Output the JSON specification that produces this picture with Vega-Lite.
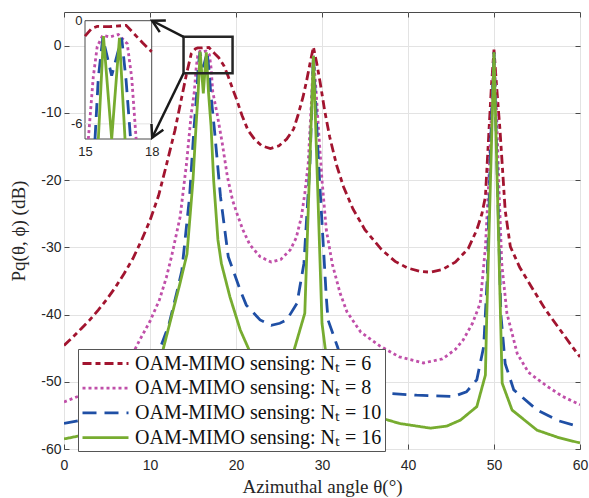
{
  "$schema": "https://vega.github.io/schema/vega-lite/v6.json",
  "width": 516,
  "height": 437,
  "autosize": {"type": "none"},
  "padding": {"left": 64, "top": 12, "right": 9, "bottom": 49},
  "background": "white",
  "config": {
    "view": {"stroke": "#4a4a4a", "strokeWidth": 1},
    "axis": {
      "labelFont": "Liberation Sans",
      "labelFontSize": 14,
      "labelColor": "#262626",
      "labelFlush": false,
      "labelExpr": "'' + datum.value",
      "gridColor": "#e3e3e3",
      "gridWidth": 1,
      "domain": false,
      "tickColor": "#4a4a4a",
      "tickSize": -5,
      "tickWidth": 1,
      "titleFont": "Liberation Serif",
      "titleFontWeight": "normal",
      "titleFontSize": 19,
      "titleColor": "#262626"
    }
  },
  "datasets": {
    "main": [
      {"s":"6","x":0,"y":-44.6},{"s":"6","x":1,"y":-43.4},{"s":"6","x":2,"y":-42.1},{"s":"6","x":3,"y":-40.8},{"s":"6","x":4,"y":-39.3},{"s":"6","x":5,"y":-37.7},{"s":"6","x":6,"y":-35.9},{"s":"6","x":7,"y":-33.9},{"s":"6","x":8,"y":-31.7},{"s":"6","x":9,"y":-29.0},{"s":"6","x":10,"y":-26.0},{"s":"6","x":11,"y":-22.3},{"s":"6","x":11.9,"y":-17.8},{"s":"6","x":12.9,"y":-12.6},{"s":"6","x":13.7,"y":-7.6},{"s":"6","x":14.25,"y":-4.2},{"s":"6","x":14.8,"y":-1.2},{"s":"6","x":15.0,"y":-0.9},{"s":"6","x":15.3,"y":-0.45},{"s":"6","x":15.55,"y":-0.33},{"s":"6","x":16.1,"y":-0.35},{"s":"6","x":16.85,"y":-0.27},{"s":"6","x":17.2,"y":-0.75},{"s":"6","x":17.6,"y":-1.3},{"s":"6","x":18.0,"y":-1.8},{"s":"6","x":18.6,"y":-3.0},{"s":"6","x":19.1,"y":-4.6},{"s":"6","x":19.6,"y":-6.4},{"s":"6","x":20.1,"y":-8.1},{"s":"6","x":20.7,"y":-10.4},{"s":"6","x":21.4,"y":-12.6},{"s":"6","x":22.2,"y":-14.0},{"s":"6","x":23.0,"y":-14.9},{"s":"6","x":24.0,"y":-15.3},{"s":"6","x":25.0,"y":-14.9},{"s":"6","x":25.9,"y":-13.9},{"s":"6","x":26.7,"y":-12.4},{"s":"6","x":27.2,"y":-10.4},{"s":"6","x":27.8,"y":-7.6},{"s":"6","x":28.2,"y":-5.3},{"s":"6","x":28.6,"y":-2.7},{"s":"6","x":29.0,"y":-0.2},{"s":"6","x":29.4,"y":-2.7},{"s":"6","x":29.8,"y":-5.6},{"s":"6","x":30.3,"y":-9.6},{"s":"6","x":30.9,"y":-13.6},{"s":"6","x":31.7,"y":-17.8},{"s":"6","x":32.5,"y":-21.0},{"s":"6","x":33.6,"y":-24.3},{"s":"6","x":35.0,"y":-27.4},{"s":"6","x":36.9,"y":-30.3},{"s":"6","x":38.5,"y":-32.1},{"s":"6","x":40.0,"y":-33.1},{"s":"6","x":41.5,"y":-33.6},{"s":"6","x":42.6,"y":-33.7},{"s":"6","x":44.0,"y":-33.3},{"s":"6","x":45.5,"y":-32.2},{"s":"6","x":47.0,"y":-30.2},{"s":"6","x":48.0,"y":-27.4},{"s":"6","x":48.6,"y":-25.0},{"s":"6","x":49.0,"y":-22.5},{"s":"6","x":49.4,"y":-13.0},{"s":"6","x":49.7,"y":-6.0},{"s":"6","x":50.0,"y":-0.6},{"s":"6","x":50.3,"y":-6.0},{"s":"6","x":50.7,"y":-12.6},{"s":"6","x":51.3,"y":-24.5},{"s":"6","x":51.9,"y":-29.9},{"s":"6","x":53.0,"y":-33.0},{"s":"6","x":54.6,"y":-36.4},{"s":"6","x":56.0,"y":-39.3},{"s":"6","x":57.7,"y":-42.3},{"s":"6","x":59.0,"y":-44.6},{"s":"6","x":60,"y":-46.3},
      {"s":"8","x":0,"y":-53.0},{"s":"8","x":2,"y":-52.0},{"s":"8","x":4,"y":-50.5},{"s":"8","x":6,"y":-48.5},{"s":"8","x":8,"y":-45.8},{"s":"8","x":8.8,"y":-43.8},{"s":"8","x":10,"y":-41.0},{"s":"8","x":11.1,"y":-37.8},{"s":"8","x":11.9,"y":-34.5},{"s":"8","x":12.5,"y":-31.4},{"s":"8","x":13.5,"y":-25.5},{"s":"8","x":14.25,"y":-17.5},{"s":"8","x":14.8,"y":-10.1},{"s":"8","x":15.15,"y":-6.9},{"s":"8","x":15.37,"y":-3.3},{"s":"8","x":15.55,"y":-1.5},{"s":"8","x":15.8,"y":-0.85},{"s":"8","x":16.1,"y":-0.95},{"s":"8","x":16.5,"y":-0.8},{"s":"8","x":16.9,"y":-1.34},{"s":"8","x":17.1,"y":-3.3},{"s":"8","x":17.3,"y":-6.9},{"s":"8","x":17.8,"y":-10.1},{"s":"8","x":18.4,"y":-14.5},{"s":"8","x":19.0,"y":-19.5},{"s":"8","x":19.6,"y":-23.0},{"s":"8","x":20.2,"y":-25.3},{"s":"8","x":20.8,"y":-27.4},{"s":"8","x":21.6,"y":-29.6},{"s":"8","x":22.8,"y":-31.4},{"s":"8","x":24.1,"y":-32.2},{"s":"8","x":25.2,"y":-31.8},{"s":"8","x":26.3,"y":-30.4},{"s":"8","x":27.0,"y":-28.6},{"s":"8","x":27.6,"y":-25.5},{"s":"8","x":28.0,"y":-22.0},{"s":"8","x":28.4,"y":-17.5},{"s":"8","x":28.8,"y":-7.6},{"s":"8","x":29.0,"y":-1.5},{"s":"8","x":29.3,"y":-6.5},{"s":"8","x":29.6,"y":-12.6},{"s":"8","x":30.0,"y":-20.0},{"s":"8","x":30.5,"y":-27.4},{"s":"8","x":31.2,"y":-32.5},{"s":"8","x":32.1,"y":-36.8},{"s":"8","x":32.9,"y":-39.6},{"s":"8","x":34.5,"y":-42.6},{"s":"8","x":36.75,"y":-44.7},{"s":"8","x":39.0,"y":-46.3},{"s":"8","x":41.8,"y":-47.2},{"s":"8","x":44.0,"y":-46.6},{"s":"8","x":45.5,"y":-45.2},{"s":"8","x":46.4,"y":-43.8},{"s":"8","x":47.5,"y":-41.3},{"s":"8","x":48.4,"y":-38.3},{"s":"8","x":49.0,"y":-30.0},{"s":"8","x":49.4,"y":-20.0},{"s":"8","x":49.7,"y":-10.0},{"s":"8","x":50.0,"y":-1.0},{"s":"8","x":50.3,"y":-10.0},{"s":"8","x":50.6,"y":-22.0},{"s":"8","x":50.9,"y":-32.4},{"s":"8","x":51.5,"y":-39.8},{"s":"8","x":52.7,"y":-45.8},{"s":"8","x":54.0,"y":-48.6},{"s":"8","x":56.2,"y":-50.7},{"s":"8","x":58.0,"y":-52.2},{"s":"8","x":60,"y":-53.4},
      {"s":"10","x":0,"y":-56.2},{"s":"10","x":2,"y":-55.7},{"s":"10","x":4,"y":-54.8},{"s":"10","x":6,"y":-53.4},{"s":"10","x":8,"y":-51.3},{"s":"10","x":9.5,"y":-48.8},{"s":"10","x":11.1,"y":-45.3},{"s":"10","x":12.2,"y":-41.5},{"s":"10","x":13.1,"y":-36.8},{"s":"10","x":13.7,"y":-33.5},{"s":"10","x":14.6,"y":-22.5},{"s":"10","x":15.1,"y":-12.6},{"s":"10","x":15.45,"y":-6.9},{"s":"10","x":15.6,"y":-3.3},{"s":"10","x":15.8,"y":-1.0},{"s":"10","x":16.2,"y":-3.2},{"s":"10","x":16.65,"y":-1.0},{"s":"10","x":16.85,"y":-3.5},{"s":"10","x":17.05,"y":-6.9},{"s":"10","x":17.5,"y":-12.6},{"s":"10","x":18.2,"y":-22.5},{"s":"10","x":19.1,"y":-31.4},{"s":"10","x":20.5,"y":-36.4},{"s":"10","x":21.2,"y":-38.6},{"s":"10","x":22.8,"y":-40.8},{"s":"10","x":24.1,"y":-41.6},{"s":"10","x":25.1,"y":-41.3},{"s":"10","x":25.9,"y":-40.8},{"s":"10","x":27.1,"y":-38.3},{"s":"10","x":27.9,"y":-32.4},{"s":"10","x":28.6,"y":-17.5},{"s":"10","x":29.0,"y":-1.5},{"s":"10","x":29.6,"y":-17.5},{"s":"10","x":30.5,"y":-37.4},{"s":"10","x":30.7,"y":-40.8},{"s":"10","x":31.8,"y":-44.8},{"s":"10","x":32.6,"y":-48.0},{"s":"10","x":33.6,"y":-50.5},{"s":"10","x":35.0,"y":-51.3},{"s":"10","x":37.5,"y":-51.7},{"s":"10","x":41.0,"y":-52.0},{"s":"10","x":45.3,"y":-52.2},{"s":"10","x":46.8,"y":-51.5},{"s":"10","x":48.0,"y":-49.7},{"s":"10","x":48.8,"y":-44.8},{"s":"10","x":49.2,"y":-35.0},{"s":"10","x":49.6,"y":-15.0},{"s":"10","x":50.0,"y":-1.0},{"s":"10","x":50.4,"y":-20.0},{"s":"10","x":50.8,"y":-40.0},{"s":"10","x":51.3,"y":-47.3},{"s":"10","x":52.3,"y":-51.2},{"s":"10","x":55.0,"y":-54.2},{"s":"10","x":57.5,"y":-55.8},{"s":"10","x":60,"y":-56.7},
      {"s":"16","x":0,"y":-58.5},{"s":"16","x":2,"y":-58.0},{"s":"16","x":4,"y":-57.0},{"s":"16","x":6,"y":-55.5},{"s":"16","x":8,"y":-53.2},{"s":"16","x":10,"y":-49.5},{"s":"16","x":11.5,"y":-45.3},{"s":"16","x":12.7,"y":-39.3},{"s":"16","x":13.5,"y":-35.3},{"s":"16","x":14.3,"y":-31.0},{"s":"16","x":15.0,"y":-20.0},{"s":"16","x":15.35,"y":-12.0},{"s":"16","x":15.6,"y":-6.9},{"s":"16","x":15.83,"y":-0.9},{"s":"16","x":16.2,"y":-7.1},{"s":"16","x":16.55,"y":-1.0},{"s":"16","x":16.8,"y":-6.9},{"s":"16","x":17.1,"y":-12.0},{"s":"16","x":17.4,"y":-20.0},{"s":"16","x":17.9,"y":-28.9},{"s":"16","x":18.3,"y":-32.4},{"s":"16","x":19.3,"y":-37.4},{"s":"16","x":20.5,"y":-42.3},{"s":"16","x":21.6,"y":-45.5},{"s":"16","x":23.0,"y":-48.5},{"s":"16","x":24.5,"y":-49.5},{"s":"16","x":25.5,"y":-48.5},{"s":"16","x":26.7,"y":-45.5},{"s":"16","x":28.0,"y":-39.8},{"s":"16","x":29.0,"y":-1.5},{"s":"16","x":30.0,"y":-41.3},{"s":"16","x":30.5,"y":-46.3},{"s":"16","x":31.0,"y":-48.0},{"s":"16","x":32.0,"y":-50.5},{"s":"16","x":34.0,"y":-53.5},{"s":"16","x":36.9,"y":-55.4},{"s":"16","x":39.0,"y":-56.2},{"s":"16","x":42.6,"y":-56.9},{"s":"16","x":44.5,"y":-56.6},{"s":"16","x":46.1,"y":-55.7},{"s":"16","x":48.0,"y":-53.7},{"s":"16","x":49.0,"y":-49.0},{"s":"16","x":49.15,"y":-40.5},{"s":"16","x":50.0,"y":-1.0},{"s":"16","x":50.95,"y":-50.2},{"s":"16","x":52.1,"y":-54.2},{"s":"16","x":55.0,"y":-57.2},{"s":"16","x":57.5,"y":-58.3},{"s":"16","x":60,"y":-59.1}
    ],
    "inset": [
      {"s":"6","x":15.0,"y":-0.9},{"s":"6","x":15.3,"y":-0.45},{"s":"6","x":15.55,"y":-0.33},{"s":"6","x":16.1,"y":-0.35},{"s":"6","x":16.85,"y":-0.27},{"s":"6","x":17.2,"y":-0.75},{"s":"6","x":17.6,"y":-1.3},{"s":"6","x":18.0,"y":-1.8},
      {"s":"8","x":15.15,"y":-6.88},{"s":"8","x":15.37,"y":-3.3},{"s":"8","x":15.55,"y":-1.5},{"s":"8","x":15.8,"y":-0.85},{"s":"8","x":16.1,"y":-0.95},{"s":"8","x":16.5,"y":-0.8},{"s":"8","x":16.9,"y":-1.34},{"s":"8","x":17.1,"y":-3.3},{"s":"8","x":17.3,"y":-6.88},
      {"s":"10","x":15.45,"y":-6.88},{"s":"10","x":15.6,"y":-3.3},{"s":"10","x":15.8,"y":-1.0},{"s":"10","x":16.2,"y":-3.2},{"s":"10","x":16.65,"y":-1.0},{"s":"10","x":16.85,"y":-3.5},{"s":"10","x":17.05,"y":-6.88},
      {"s":"16","x":15.6,"y":-6.88},{"s":"16","x":15.83,"y":-0.9},{"s":"16","x":16.2,"y":-6.88},{"s":"16","x":16.55,"y":-1.0},{"s":"16","x":16.8,"y":-6.88}
    ]
  },
  "layer": [
    {
      "layer": [
        {
          "data": {"name": "main"},
          "mark": {"type": "line", "strokeWidth": 2.8, "clip": true},
          "encoding": {
            "x": {"field": "x", "type": "quantitative", "scale": {"domain": [0, 60], "nice": false, "zero": false},
                  "axis": {"values": [0, 10, 20, 30, 40, 50, 60], "title": "Azimuthal angle θ(°)", "grid": true, "labelPadding": 14, "titlePadding": 5}},
            "y": {"field": "y", "type": "quantitative", "scale": {"domain": [-60, 5], "nice": false, "zero": false},
                  "axis": {"values": [-60, -50, -40, -30, -20, -10, 0], "title": "Pq(θ, ϕ) (dB)", "grid": true, "labelPadding": 8, "titlePadding": 12}},
            "color": {"field": "s", "type": "nominal",
                      "scale": {"domain": ["6", "8", "10", "16"], "range": ["#a2142f", "#c04fa9", "#1f4fa5", "#77ac30"]},
                      "legend": {"title": null, "orient": "none", "legendX": 14, "legendY": 337,
                                 "labelExpr": "'OAM-MIMO sensing: Nₜ = ' + datum.label",
                                 "labelFont": "Liberation Serif", "labelFontSize": 20, "labelColor": "#111111", "labelLimit": 400, "labelOffset": 31,
                                 "symbolType": "M-1,0L3.6,0", "symbolSize": 400, "symbolStrokeWidth": 2.8,
                                 "fillColor": "white", "strokeColor": "#555555", "padding": 3, "rowPadding": 2.7, "cornerRadius": 0}},
            "strokeDash": {"field": "s", "type": "nominal",
                           "scale": {"domain": ["6", "8", "10", "16"], "range": [[9, 4, 5, 4], [3, 3], [14, 8], [1, 0]]}}
          }
        },
        {
          "data": {"values": [{"x": 13.9, "x2": 19.6, "y": 1.32, "y2": -4.12}]},
          "mark": {"type": "rect", "filled": false, "stroke": "#262626", "strokeWidth": 2.5},
          "encoding": {
            "x": {"field": "x", "type": "quantitative"}, "x2": {"field": "x2"},
            "y": {"field": "y", "type": "quantitative"}, "y2": {"field": "y2"}
          }
        }
      ]
    },
    {
      "layer": [
        {
          "data": {"values": [{"x": 15, "x2": 18, "y": -6.88, "y2": 0}]},
          "mark": {"type": "rect", "fill": "white", "stroke": "#4a4a4a", "strokeWidth": 1},
          "encoding": {
            "x": {"field": "x", "type": "quantitative", "scale": {"domain": [15, 18], "range": [21, 87.7], "nice": false, "zero": false},
                  "axis": {"orient": "bottom", "offset": -310, "values": [15, 18], "title": null, "grid": false, "ticks": false, "labelPadding": 6, "labelFontSize": 13}},
            "x2": {"field": "x2"},
            "y": {"field": "y", "type": "quantitative", "scale": {"domain": [-6.88, 0], "range": [127, 8.7], "nice": false, "zero": false},
                  "axis": {"orient": "left", "offset": -21, "values": [0, -6], "title": null, "grid": false, "ticks": false, "labelPadding": 3, "labelFontSize": 13}},
            "y2": {"field": "y2"}
          }
        },
        {
          "data": {"values": [{"x": 15, "x2": 18, "y": -6}]},
          "mark": {"type": "rule", "stroke": "#e3e3e3", "strokeWidth": 1},
          "encoding": {
            "x": {"field": "x", "type": "quantitative"}, "x2": {"field": "x2"},
            "y": {"field": "y", "type": "quantitative"}
          }
        },
        {
          "data": {"name": "inset"},
          "mark": {"type": "line", "strokeWidth": 2.8},
          "encoding": {
            "x": {"field": "x", "type": "quantitative"},
            "y": {"field": "y", "type": "quantitative"},
            "color": {"field": "s", "type": "nominal", "scale": {"domain": ["6", "8", "10", "16"], "range": ["#a2142f", "#c04fa9", "#1f4fa5", "#77ac30"]}},
            "strokeDash": {"field": "s", "type": "nominal", "scale": {"domain": ["6", "8", "10", "16"], "range": [[9, 4, 5, 4], [3, 3], [14, 8], [1, 0]]}}
          }
        }
      ]
    },
    {
      "layer": [
        {
          "data": {"values": [{"x": 13.9, "y": 1.3, "x2": 10.25, "y2": 3.7}, {"x": 13.9, "y": -4.1, "x2": 10.25, "y2": -13.7}]},
          "mark": {"type": "rule", "stroke": "#1a1a1a", "strokeWidth": 2.5},
          "encoding": {
            "x": {"field": "x", "type": "quantitative", "scale": {"domain": [0, 60], "nice": false, "zero": false},
                  "axis": {"orient": "top", "values": [0, 10, 20, 30, 40, 50, 60], "labels": false, "grid": false, "title": null}},
            "x2": {"field": "x2"},
            "y": {"field": "y", "type": "quantitative", "scale": {"domain": [-60, 5], "nice": false, "zero": false},
                  "axis": {"orient": "right", "values": [-60, -50, -40, -30, -20, -10, 0], "labels": false, "grid": false, "title": null}},
            "y2": {"field": "y2"}
          }
        },
        {
          "data": {"values": [{"x": 10.25, "y": 3.7}]},
          "mark": {"type": "point", "shape": "M-1,-0.55L0,0L-1,0.55", "filled": false, "stroke": "#1a1a1a", "strokeWidth": 2.5, "size": 576, "opacity": 1, "angle": 207.4},
          "encoding": {"x": {"field": "x", "type": "quantitative"}, "y": {"field": "y", "type": "quantitative"}}
        },
        {
          "data": {"values": [{"x": 10.25, "y": -13.7}]},
          "mark": {"type": "point", "shape": "M-1,-0.55L0,0L-1,0.55", "filled": false, "stroke": "#1a1a1a", "strokeWidth": 2.5, "size": 576, "opacity": 1, "angle": 115.9},
          "encoding": {"x": {"field": "x", "type": "quantitative"}, "y": {"field": "y", "type": "quantitative"}}
        }
      ]
    }
  ],
  "resolve": {"scale": {"x": "independent", "y": "independent"}, "axis": {"x": "independent", "y": "independent"}}
}
